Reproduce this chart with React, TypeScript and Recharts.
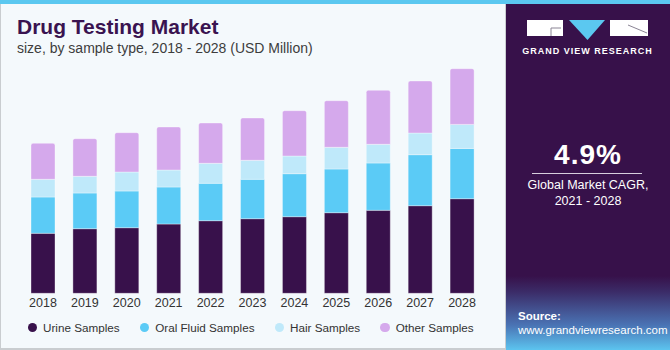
import { BarChart, Bar, XAxis, YAxis } from 'recharts'

const years = ['2018', '2019', '2020', '2021', '2022', '2023', '2024', '2025', '2026', '2027', '2028']
const urine = [60, 64.6, 65.6, 69.3, 72.6, 74.6, 76.6, 80.6, 83, 87.6, 94.6]
const oralFluid = [36.3, 35.7, 36.7, 37, 37.4, 39.4, 43, 43.7, 47.3, 51, 50.3]
const hair = [17.7, 16.7, 19, 17, 20, 19, 17.7, 21.7, 18.7, 21.7, 24]
const other = [36, 37.6, 39.3, 43, 40.3, 42.3, 45.3, 46.6, 54, 52, 55.7]

const seriesInfo = [
  { key: 'urine', name: 'Urine Samples', color: '#38114b' },
  { key: 'oral', name: 'Oral Fluid Samples', color: '#5bcbf6' },
  { key: 'hair', name: 'Hair Samples', color: '#bfe9fa' },
  { key: 'other', name: 'Other Samples', color: '#d5a9ec' },
]

const data = years.map((year, i) => ({
  year,
  urine: urine[i],
  oral: oralFluid[i],
  hair: hair[i],
  other: other[i],
}))

const font = '"Liberation Sans", Arial, sans-serif'

export default function App() {
  return (
    <div
      style={{
        position: 'absolute',
        left: 0,
        top: 0,
        width: 670,
        height: 350,
        overflow: 'hidden',
        fontFamily: font,
        background: '#f4f9fc',
      }}
    >
      {/* left panel borders */}
      <div style={{ position: 'absolute', left: 0, top: 0, width: 1, height: 350, background: '#c9cdd0' }} />
      <div style={{ position: 'absolute', left: 0, top: 348, width: 506, height: 2, background: '#c9cdd0' }} />
      <div style={{ position: 'absolute', left: 505, top: 0, width: 1, height: 350, background: '#c9cdd0' }} />

      {/* right panel */}
      <div
        style={{
          position: 'absolute',
          left: 506,
          top: 0,
          width: 164,
          height: 350,
          background:
            'linear-gradient(180deg, #37114a 0px, #37114a 276px, #3b2c68 292px, #4a73b4 325px, #5cc4ef 350px)',
        }}
      />
      <div style={{ position: 'absolute', left: 0, top: 0, width: 670, height: 4, background: '#5bc8f0' }} />

      {/* title */}
      <div
        style={{
          position: 'absolute',
          left: 17,
          top: 15,
          fontSize: 21,
          fontWeight: 700,
          color: '#3a1350',
          lineHeight: '23px',
          whiteSpace: 'nowrap',
        }}
      >
        Drug Testing Market
      </div>
      <div
        style={{
          position: 'absolute',
          left: 17,
          top: 40,
          fontSize: 14,
          color: '#3d3d3d',
          lineHeight: '16px',
          whiteSpace: 'nowrap',
        }}
      >
        size, by sample type, 2018 - 2028 (USD Million)
      </div>

      {/* logo */}
      <svg style={{ position: 'absolute', left: 520, top: 15 }} width={140} height={44}>
        <rect x={7} y={5} width={36} height={16} fill="#ffffff" />
        <path d="M31 13 H41 M31 13 V21" stroke="#8a8494" strokeWidth={1} fill="none" />
        <polygon points="49,5 85,5 67.5,25" fill="#5bc8f0" />
        <rect x={90} y={5} width={38} height={16} fill="#ffffff" />
        <path d="M108 10 L127 18" stroke="#8a8494" strokeWidth={1} fill="none" />
        <text
          x={67.5}
          y={38.5}
          textAnchor="middle"
          fill="#ffffff"
          fontSize={9}
          fontWeight={700}
          letterSpacing={1}
          fontFamily={font}
        >
          GRAND VIEW RESEARCH
        </text>
      </svg>

      {/* CAGR */}
      <div
        style={{
          position: 'absolute',
          left: 506,
          width: 164,
          top: 139,
          textAlign: 'center',
          color: '#ffffff',
          fontSize: 28,
          fontWeight: 700,
          lineHeight: '32px',
          letterSpacing: 1,
        }}
      >
        4.9%
      </div>
      <div style={{ position: 'absolute', left: 532, top: 173, width: 110, height: 1, background: '#d6cedd' }} />
      <div
        style={{
          position: 'absolute',
          left: 506,
          width: 164,
          top: 177,
          textAlign: 'center',
          color: '#ffffff',
          fontSize: 12.5,
          lineHeight: '16px',
        }}
      >
        Global Market CAGR,
        <br />
        2021 - 2028
      </div>

      {/* source */}
      <div
        style={{
          position: 'absolute',
          left: 518,
          top: 309,
          color: '#ffffff',
          fontSize: 11.5,
          lineHeight: '14px',
          whiteSpace: 'nowrap',
        }}
      >
        <div style={{ fontWeight: 700 }}>Source:</div>
        <div>www.grandviewresearch.com</div>
      </div>

      {/* chart */}
      <div style={{ position: 'absolute', left: 0, top: 0 }}>
        <BarChart
          width={500}
          height={350}
          data={data}
          margin={{ top: 68.3, right: 17, bottom: 36.7, left: 22 }}
          barSize={24}
        >
          <XAxis
            dataKey="year"
            height={20}
            axisLine={false}
            tickLine={false}
            tickSize={4}
            tickMargin={1}
            interval={0}
            tick={{ fill: '#333333', fontSize: 12.5, fontFamily: font }}
          />
          <YAxis hide domain={[0, 225]} />
          {seriesInfo.map((s, i) => (
            <Bar
              key={s.key}
              dataKey={s.key}
              name={s.name}
              stackId="a"
              fill={s.color}
              stroke="#ffffff"
              strokeOpacity={0.35}
              strokeWidth={1}
              radius={i === seriesInfo.length - 1 ? [2, 2, 0, 0] : 0}
              isAnimationActive={false}
            />
          ))}
        </BarChart>
      </div>

      {/* legend */}
      <div
        style={{
          position: 'absolute',
          left: 27.5,
          top: 320,
          display: 'flex',
          alignItems: 'center',
          gap: 20,
          fontSize: 11.7,
          color: '#333333',
          whiteSpace: 'nowrap',
        }}
      >
        {seriesInfo.map((s) => (
          <div key={s.key} style={{ display: 'flex', alignItems: 'center', lineHeight: '15px' }}>
            <span
              style={{
                display: 'inline-block',
                width: 9.5,
                height: 9.5,
                borderRadius: '50%',
                background: s.color,
                marginRight: 6,
              }}
            />
            {s.name}
          </div>
        ))}
      </div>
    </div>
  )
}
